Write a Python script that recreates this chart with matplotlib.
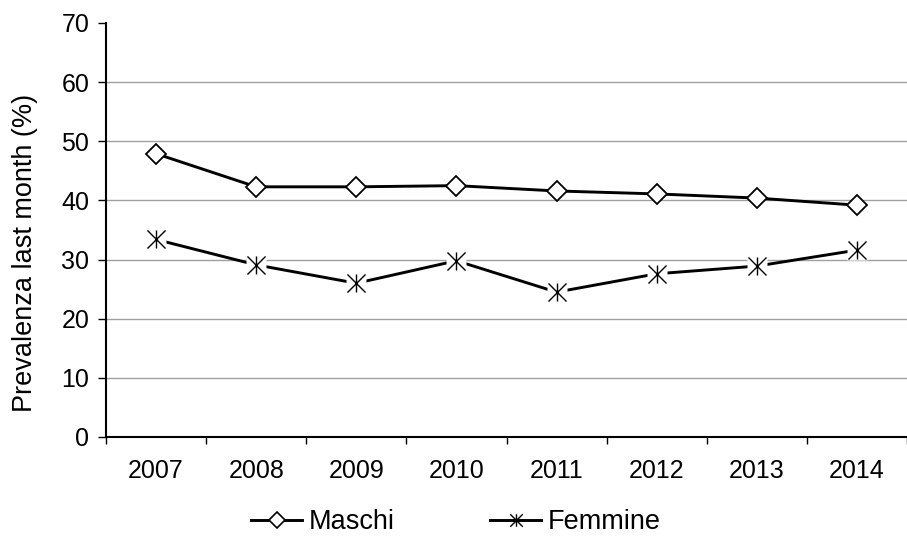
import numpy as np
import matplotlib
matplotlib.use("Agg")
import matplotlib.pyplot as plt
from matplotlib.lines import Line2D
from matplotlib.path import Path

years = ["2007", "2008", "2009", "2010", "2011", "2012", "2013", "2014"]
maschi = [47.9, 42.3, 42.3, 42.5, 41.6, 41.1, 40.4, 39.2]
femmine = [33.4, 29.1, 26.0, 29.8, 24.5, 27.6, 28.9, 31.6]
y_ticks = [0, 10, 20, 30, 40, 50, 60, 70]

plt.rcParams["font.family"] = ["Liberation Sans", "DejaVu Sans"]

# asterisk marker: an X with a vertical bar through it
star = Path(
    [(-1, -1), (1, 1), (-1, 1), (1, -1), (0, -1), (0, 1)],
    [Path.MOVETO, Path.LINETO, Path.MOVETO, Path.LINETO, Path.MOVETO, Path.LINETO],
)

fig = plt.figure(figsize=(9.07, 5.40), dpi=100)
ax = fig.add_axes([106 / 907, (540 - 437) / 540, 801 / 907, (437 - 23) / 540])

x = np.arange(len(years))
ax.plot(x, maschi, color="black", lw=2.1, marker="D", markersize=10,
        markerfacecolor="white", markeredgecolor="black", markeredgewidth=1.3,
        zorder=3)
ax.plot(x, femmine, color="black", lw=2.1, zorder=3)
# white patch behind the asterisks, as in the original
ax.plot(x, femmine, ls="none", marker="s", markersize=14, markerfacecolor="white",
        markeredgecolor="none", zorder=4)
ax.plot(x, femmine, ls="none", marker=star, markersize=13, color="black",
        markeredgewidth=1.0, zorder=5)

ax.set_ylim(0, 70)
ax.set_yticks(y_ticks)
ax.set_xlim(-0.5, 7 + (907 - 868) / 101.6)
ax.set_xticks(x)
ax.set_xticklabels(years)
ax.set_xticks(np.arange(-0.5, 7.6, 1.0), minor=True)
ax.tick_params(axis="x", which="major", length=0, pad=16, labelsize=18)
ax.tick_params(axis="x", which="minor", length=5, width=1, direction="out")
ax.tick_params(axis="y", length=6, width=1, direction="out", labelsize=18, pad=6)

for v in y_ticks[1:-1]:
    ax.axhline(v, color="#a0a0a0", lw=1, zorder=1)

for side in ("top", "right"):
    ax.spines[side].set_visible(False)
ax.spines["left"].set_linewidth(1.5)
ax.spines["bottom"].set_linewidth(1.5)

ax.set_ylabel("Prevalenza last month (%)", fontsize=19.5)
ax.yaxis.set_label_coords(-0.085, 0.444)

handles = [
    Line2D([], [], color="black", lw=2.1, marker="D", markersize=8,
           markerfacecolor="white", markeredgewidth=1.2),
    Line2D([], [], color="black", lw=2.1, marker=star, markersize=9,
           markeredgewidth=1.0),
]
fig.legend(handles, ["Maschi", "Femmine"], loc="center",
           bbox_to_anchor=(456 / 907, 1 - 522 / 540), ncol=2, frameon=False,
           fontsize=19.5, handlelength=1.9, columnspacing=3.5, handletextpad=0.25)

fig.savefig("out.png", dpi=100)
